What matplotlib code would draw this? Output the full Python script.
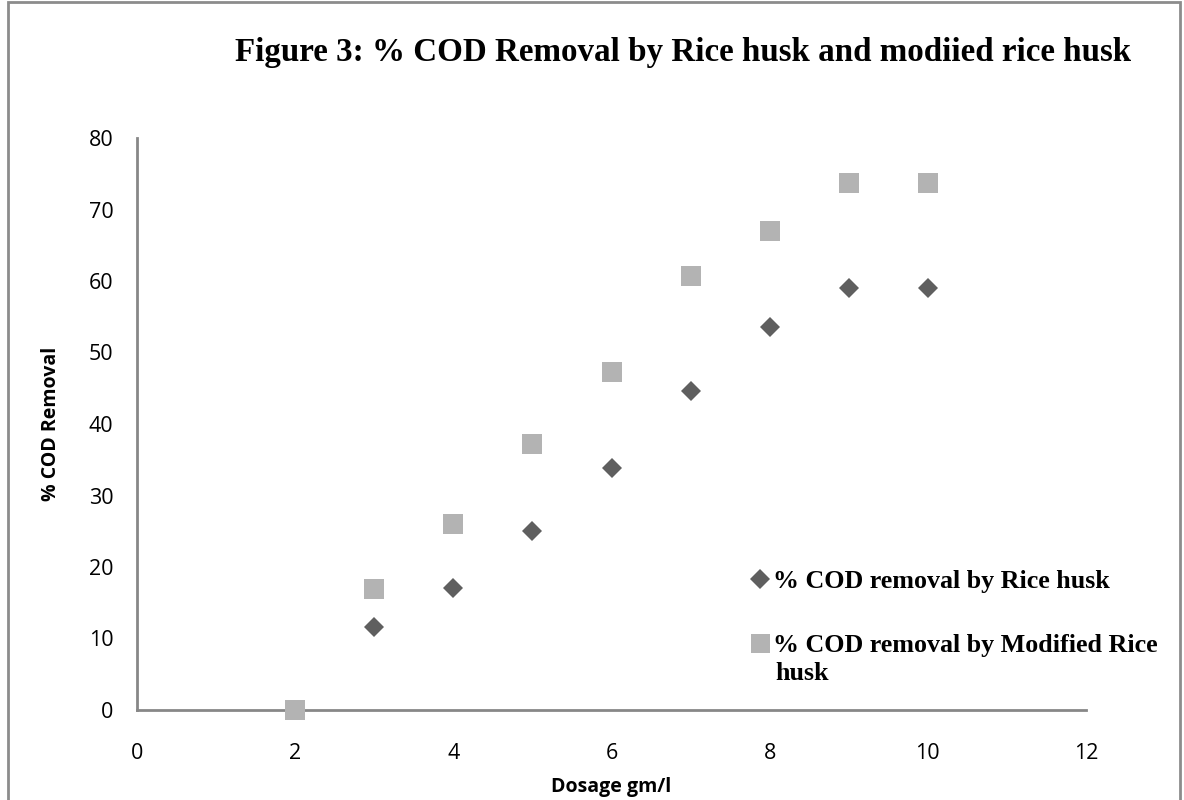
import matplotlib
matplotlib.use("Agg")
import matplotlib.pyplot as plt
from matplotlib.patches import Rectangle

# Dane: dawka (gm/l) i % usunięcia COD
dawka = [2, 3, 4, 5, 6, 7, 8, 9, 10]
cod_rice = [0, 11.6, 17.0, 25.0, 33.8, 44.6, 53.6, 59.0, 59.0]
cod_modified = [0, 16.9, 26.0, 37.2, 47.3, 60.7, 67.0, 73.7, 73.7]

x_ticks = [0, 2, 4, 6, 8, 10, 12]
y_ticks = [0, 10, 20, 30, 40, 50, 60, 70, 80]

kolor_rice = "#5f5f5f"
kolor_mod = "#b3b3b3"
kolor_osi = "#878787"

fig = plt.figure(figsize=(11.84, 8), dpi=100)
ax = fig.add_axes([137 / 1184, 1 - 710 / 800, (1086 - 137) / 1184, (710 - 138) / 800])

ax.plot(dawka, cod_rice, linestyle="none", marker="D", markersize=10.2,
        color=kolor_rice, markeredgewidth=0, label="% COD removal by Rice husk",
        clip_on=False, zorder=3)
ax.plot(dawka, cod_modified, linestyle="none", marker="s", markersize=14.4,
        color=kolor_mod, markeredgewidth=0, label="% COD removal by Modified Rice",
        clip_on=False, zorder=4)

ax.set_xlim(0, 12)
ax.set_ylim(0, 80)
ax.set_xticks(x_ticks)
ax.set_yticks(y_ticks)

tick_font = {"family": "Open Sans", "size": 15.5}
ax.set_xticklabels([str(t) for t in x_ticks], fontdict=tick_font)
ax.set_yticklabels([str(t) for t in y_ticks], fontdict=tick_font)
ax.tick_params(axis="x", length=0, pad=24)
ax.tick_params(axis="y", length=0, pad=17)

for s in ["top", "right"]:
    ax.spines[s].set_visible(False)
for s in ["left", "bottom"]:
    ax.spines[s].set_color(kolor_osi)
    ax.spines[s].set_linewidth(2)

ax.set_xlabel("Dosage gm/l", fontfamily="Open Sans", fontweight="bold", fontsize=14, labelpad=9)
ax.set_ylabel("% COD Removal", fontfamily="Open Sans", fontweight="bold", fontsize=14, labelpad=20)

fig.suptitle("Figure 3: % COD Removal by Rice husk and modiied rice husk",
             fontfamily="Liberation Serif", fontweight="bold", fontsize=23.8,
             x=(237 + 1130) / 2 / 1184, y=1 - 53 / 800, va="center")

leg = ax.legend(loc="upper left", bbox_to_anchor=(750 / 1184, 1 - 570 / 800),
                bbox_transform=fig.transFigure, frameon=False, markerscale=0.95,
                handlelength=0.8, handletextpad=0.1, labelspacing=1.55,
                borderpad=0, borderaxespad=0,
                prop={"family": "Liberation Serif", "weight": "bold", "size": 18.7})
fig.text(775 / 1184, 1 - 673 / 800, "husk", fontfamily="Liberation Serif",
         fontweight="bold", fontsize=18.7, ha="left", va="center")

# ramka wokół całego wykresu
fig.patches.append(Rectangle((8 / 1184, -0.05), (1180 - 8) / 1184, 1.05 - 2 / 800,
                             transform=fig.transFigure, fill=False,
                             edgecolor="#8c8c8c", linewidth=2))

fig.savefig("out.png", dpi=100)
